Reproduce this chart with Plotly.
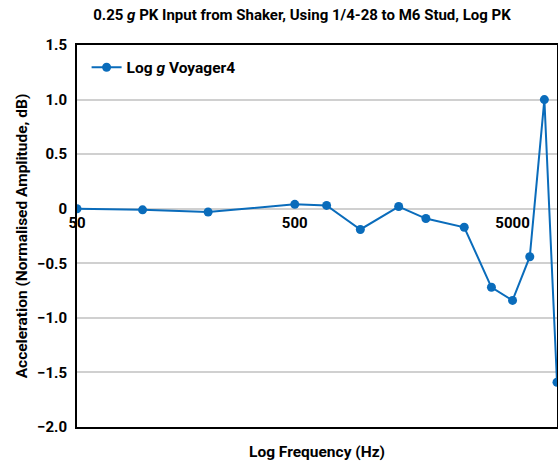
import math
import plotly.graph_objects as go

freq_hz = [50, 100, 200, 500, 700, 1000, 1500, 2000, 3000, 4000, 5000, 6000, 7000, 8000]
amp_db = [0.0, -0.01, -0.03, 0.04, 0.03, -0.19, 0.02, -0.09, -0.17, -0.72, -0.84, -0.44, 1.0, -1.59]
series_name = "Log <i>g</i> Voyager4"

x_ticks = [50, 500, 5000]
x_ticklabels = ["50", "500", "5000"]
y_ticks = [1.5, 1.0, 0.5, 0, -0.5, -1.0, -1.5, -2.0]
y_ticklabels = ["1.5", "1.0", "0.5", "0", "\u22120.5", "\u22121.0", "\u22121.5", "\u22122.0"]

blue = "#0a6cbb"
font_family = "Roboto"
xr = [math.log10(50), math.log10(8000)]
yr = [-2.0, 1.5]

fig = go.Figure()
fig.add_trace(go.Scatter(
    x=freq_hz, y=amp_db, mode="lines+markers", name=series_name,
    line=dict(color=blue, width=2),
    marker=dict(color=blue, size=9),
))

fig.update_layout(
    width=558, height=464,
    margin=dict(l=77, r=1, t=45, b=37),
    paper_bgcolor="white", plot_bgcolor="white",
    font=dict(family=font_family, size=15, color="black", weight="bold"),
    title=dict(text="0.25 <i>g</i> PK Input from Shaker, Using 1/4-28 to M6 Stud, Log PK",
               x=302/558, xanchor="center", y=1-15/464, yanchor="middle",
               font=dict(family=font_family, size=15, color="black", weight="bold")),
    showlegend=True,
    legend=dict(x=0.02, y=0.985, xanchor="left", yanchor="top",
                bgcolor="rgba(0,0,0,0)", font=dict(size=15.5, weight="bold")),
    xaxis=dict(type="log", range=xr, showticklabels=False, ticks="",
               showgrid=False, zeroline=False,
               showline=True, linecolor="black", linewidth=2, mirror=True,
               title=dict(text="Log Frequency (Hz)", standoff=18,
                          font=dict(size=15.5, weight="bold")),
               automargin=False),
    xaxis2=dict(type="log", range=xr, overlaying="x", anchor="free",
                position=2.0/3.5, side="bottom", tickvals=x_ticks, ticktext=x_ticklabels,
                ticks="", showgrid=False, zeroline=False, showline=False,
                ticklabelstandoff=3,
                tickfont=dict(size=15, weight="bold"), automargin=False),
    yaxis=dict(range=yr, tickvals=y_ticks, ticktext=y_ticklabels, ticks="",
               showgrid=True, gridcolor="#d0d0d0", gridwidth=1.5, zeroline=False,
               showline=True, linecolor="black", linewidth=2, mirror=True,
               ticklabelstandoff=5, tickfont=dict(size=15, weight="bold"),
               title=dict(text="Acceleration (Normalised Amplitude, dB)", standoff=6,
                          font=dict(size=15.5, weight="bold")),
               automargin=False),
)
# invisible trace to activate xaxis2
fig.add_trace(go.Scatter(x=[freq_hz[0]], y=[amp_db[0]], xaxis="x2", mode="markers",
                         marker=dict(opacity=0), showlegend=False, hoverinfo="skip"))

fig.write_html("out.html", config={"displayModeBar": False},
               post_script="document.body.style.margin='0';")
